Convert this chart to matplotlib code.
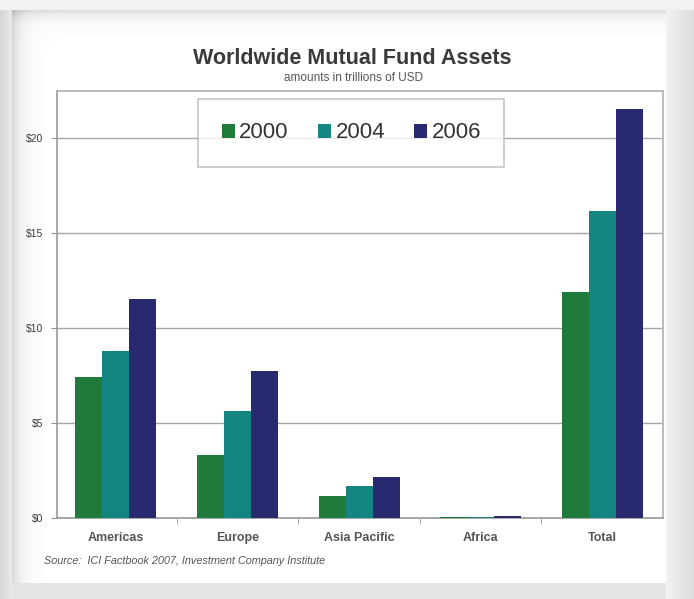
import numpy as np
import matplotlib
matplotlib.use("Agg")
import matplotlib.pyplot as plt
from matplotlib.patches import Patch

plt.rcParams['font.family'] = ['Liberation Sans', 'DejaVu Sans']

# assets in trillions of USD
regions = ["Americas", "Europe", "Asia Pacific", "Africa", "Total"]
years = ["2000", "2004", "2006"]
assets_2000 = [7.4, 3.3, 1.15, 0.05, 11.9]
assets_2004 = [8.8, 5.65, 1.7, 0.07, 16.15]
assets_2006 = [11.5, 7.75, 2.15, 0.1, 21.5]
yticks = [0, 5, 10, 15, 20]
ytick_labels = ["$0", "$5", "$10", "$15", "$20"]

colors = ["#1f7a3c", "#148580", "#29296f"]
W, H = 694, 599

fig = plt.figure(figsize=(W / 100, H / 100), dpi=100)

# bevelled grey frame around a white panel, drawn pixel for pixel
yy, xx = np.mgrid[0:H, 0:W]
x0, x1, y0, y1 = 12, 666, 10, 583
img = np.full((H, W), 0.88)
inside = (xx >= x0) & (xx < x1) & (yy >= y0) & (yy < y1)
shade = 1 - 0.13 * np.exp(-(yy - y0) / 7.0) - 0.15 * np.exp(-(xx - x0) / 9.0)
shade[shade > 0.997] = 1.0
img[inside] = shade[inside]
right = (xx >= x1) & (yy >= y0)
img[right] = 0.95 - 0.09 * (xx[right] - x1) / (W - x1)
bottom = (yy >= y1) & (xx < x1)
img[bottom] = 0.9
left = xx < x0
img[left] = 0.84 + 0.08 * xx[left] / x0
top = yy < y0
img[top] = 0.95
img = np.clip(img, 0, 1)
fig.figimage(np.dstack([img] * 3), xo=0, yo=0, origin='upper', zorder=-10)

ax = fig.add_axes([57 / W, (H - 518) / H, 606 / W, 427 / H])
x = np.arange(len(regions))
w = 0.222
for i, (vals, c) in enumerate(zip([assets_2000, assets_2004, assets_2006], colors)):
    ax.bar(x + (i - 1) * w, vals, width=w, color=c, linewidth=0, zorder=3)

ax.set_xlim(-0.485, 4.5)
ax.set_ylim(0, 22.45)
ax.set_yticks(yticks)
ax.set_yticklabels(ytick_labels)
ax.set_xticks(x)
ax.set_xticklabels(regions, fontweight='bold')
ax.set_xticks(x[:-1] + 0.5, minor=True)
ax.tick_params(axis='x', which='major', length=0, pad=10, labelsize=9, labelcolor='#555555')
ax.tick_params(axis='x', which='minor', length=4, color='#999999')
ax.tick_params(axis='y', length=4, color='#999999', pad=6, labelsize=7.5, labelcolor='#3a3a3a')
for s in ax.spines.values():
    s.set_color('#b0b0b0')
    s.set_linewidth(1.2)
ax.spines['left'].set_color('#999999')
ax.spines['bottom'].set_color('#999999')
ax.grid(axis='y', color='#a8a8a8', linewidth=1, zorder=0)
ax.set_axisbelow(True)

handles = [Patch(facecolor=c, edgecolor='none') for c in colors]
leg = ax.legend(handles, years, loc='upper left', bbox_to_anchor=(0.233, 0.981), ncol=3,
                fontsize=16, frameon=True, fancybox=False, handlelength=0.6, handleheight=0.6,
                handletextpad=0.2, columnspacing=1.3, borderpad=1.05, borderaxespad=0)
leg.get_frame().set_edgecolor('#b8b8b8')
leg.get_frame().set_linewidth(1.2)
for t in leg.get_texts():
    t.set_color('#333333')

fig.text(352 / W, 1 - 58 / H, "Worldwide Mutual Fund Assets", ha='center', va='center',
         fontsize=15.5, fontweight='bold', color='#3a3a3a')
fig.text(353 / W, 1 - 78 / H, "amounts in trillions of USD", ha='center', va='center',
         fontsize=8.5, color='#555555')
fig.text(44 / W, 1 - 561 / H, "Source:  ICI Factbook 2007, Investment Company Institute",
         ha='left', va='center', fontsize=7.8, style='italic', color='#555555')

fig.savefig("out.png", dpi=100)
